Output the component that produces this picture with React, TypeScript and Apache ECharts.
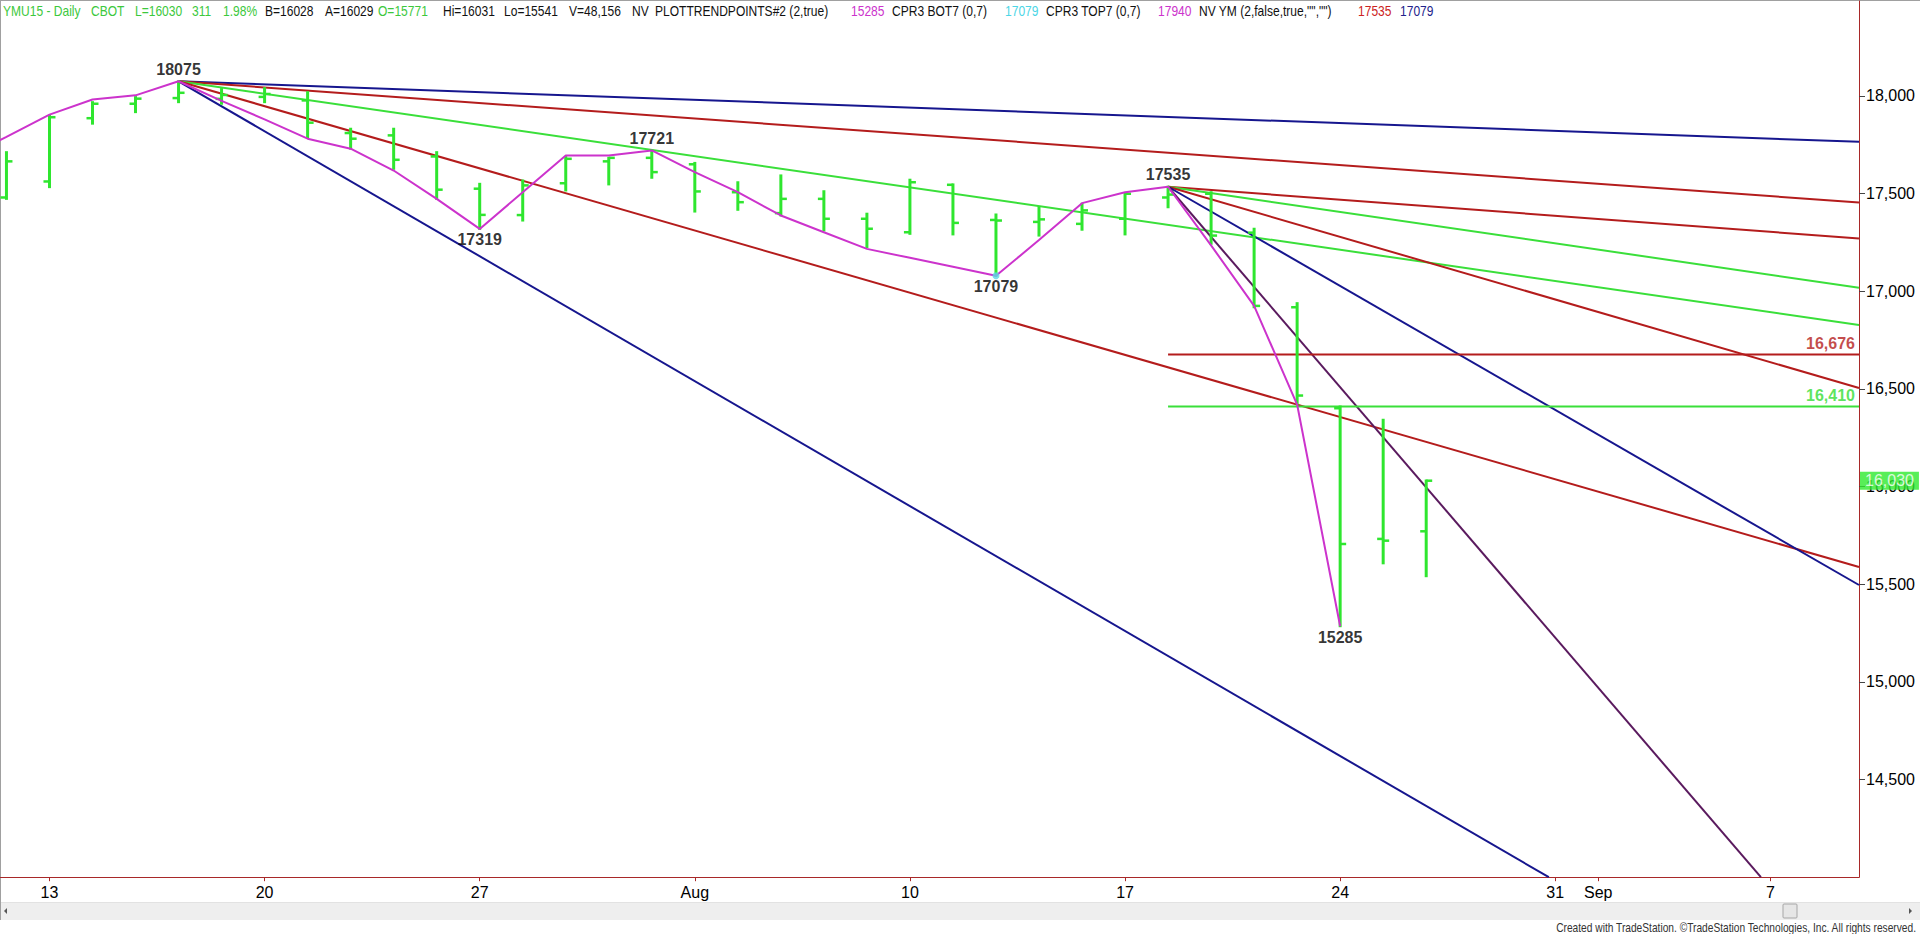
import React, { useEffect, useRef } from 'react';
import * as echarts from 'echarts';

// ---- DATA ----------------------------------------------------------------
// Trading-day calendar: index 0 = Fri Jul 10 2015
const tradingDays = [
  'Jul 10', 'Jul 13', 'Jul 14', 'Jul 15', 'Jul 16', 'Jul 17', 'Jul 20', 'Jul 21', 'Jul 22', 'Jul 23',
  'Jul 24', 'Jul 27', 'Jul 28', 'Jul 29', 'Jul 30', 'Jul 31', 'Aug 3', 'Aug 4', 'Aug 5', 'Aug 6',
  'Aug 7', 'Aug 10', 'Aug 11', 'Aug 12', 'Aug 13', 'Aug 14', 'Aug 17', 'Aug 18', 'Aug 19', 'Aug 20',
  'Aug 21', 'Aug 24', 'Aug 25', 'Aug 26', 'Aug 27', 'Aug 28', 'Aug 31', 'Sep 1', 'Sep 2', 'Sep 3',
  'Sep 4', 'Sep 7', 'Sep 8', 'Sep 9',
];
const xRangeMin = -0.15;
const xRangeMax = 43.06;
const xTickIdx = [1, 6, 11, 16, 21, 26, 31, 36, 37, 41];
const xTickText = ['13', '20', '27', 'Aug', '10', '17', '24', '31', 'Sep', '7'];

const yRangeMin = 14000;
const yRangeMax = 18486;
const yTickValues = [14500, 15000, 15500, 16000, 16500, 17000, 17500, 18000];

// Daily OHLC bars (YMU15)
const opens = [
  17480, 17562, 17886, 17960, 17989, 17985, 17995, 17977, 17810, 17798,
  17690, 17525, 17390, 17553, 17665, 17683, 17650, 17507, 17400, 17473,
  17371, 17302, 17545, 17365, 17355, 17345, 17371, 17480, 17499, 17300,
  16918, 16401, 15732, 15771,
];
const highs = [
  17712, 17897, 17968, 17994, 18075, 18035, 18040, 18019, 17832, 17832,
  17712, 17550, 17567, 17687, 17683, 17721, 17657, 17558, 17593, 17512,
  17397, 17571, 17547, 17393, 17430, 17448, 17499, 17535, 17507, 17320,
  16939, 16410, 16342, 16031,
];
const lows = [
  17473, 17533, 17858, 17917, 17968, 17960, 17968, 17789, 17730, 17627,
  17473, 17319, 17362, 17516, 17547, 17581, 17408, 17417, 17388, 17311,
  17226, 17294, 17291, 17079, 17285, 17315, 17291, 17430, 17243, 16918,
  16423, 15285, 15607, 15541,
];
const closes = [
  17665, 17891, 17960, 17986, 18016, 18005, 18010, 17863, 17781, 17673,
  17520, 17391, 17542, 17678, 17683, 17610, 17511, 17456, 17473, 17371,
  17320, 17558, 17350, 17362, 17368, 17414, 17499, 17495, 17285, 16925,
  16466, 15706, 15723, 16030,
];

// Swing (trend points) line, one value per bar from index 0, plus lead-in at index -1
const swingLeadIn = 17680;
const swingLine = [
  17790, 17904, 17982, 18003, 18075, 17975, 17880, 17781, 17730, 17618,
  17473, 17319, 17507, 17695, 17695, 17721, 17610, 17507, 17388, 17302,
  17217, 17171, 17125, 17079, 17262, 17451, 17507, 17535, 17235, 16925,
  16420, 15285,
];

const swingHighs: [number, number][] = [[4, 18075], [15, 17721], [27, 17535]];
const swingLows: [number, number][] = [[11, 17319], [23, 17079], [31, 15285]];
const cprTop: [number, number][] = [[23, 17079]];

// Trend lines: [fromIdx, fromValue, toIdx, toValue]
const trendLines: [number, number, number, number][] = [
  [4, 18075, 43.06, 17765],
  [4, 18075, 43.06, 17454],
  [4, 18075, 43.06, 16827],
  [4, 18075, 43.06, 15588],
  [4, 18075, 35.85, 14000],
  [27, 17535, 43.06, 17270],
  [27, 17535, 43.06, 17018],
  [27, 17535, 43.06, 16505],
  [27, 17535, 43.06, 15496],
  [27, 17535, 40.78, 14000],
];

const levelValues = [16676, 16410];
const levelStartIdx = 27;
const lastPrice = 16030;

// ---- STYLE ---------------------------------------------------------------
const BAR_GREEN = '#2FE62F';
const NAVY = '#16168E';
const DARKRED = '#B41C1C';
const LGREEN = '#3ADF3A';
const MAGENTA = '#CC33CC';
const PURPLE = '#5A1A5E';
const AXIS_RED = '#A82828';
const CYAN = '#5ED6E8';
const FONT = '"Liberation Sans", Arial, sans-serif';

const trendColors = [NAVY, DARKRED, LGREEN, DARKRED, NAVY, DARKRED, LGREEN, DARKRED, NAVY, PURPLE];
const levelColors = [DARKRED, LGREEN];
const levelLabelColors = ['#B41C1C', '#33DD33'];

const headerTokens: { text: string; x: number; color: string }[] = [
  { text: 'YMU15 - Daily', x: 3, color: '#3CC83C' },
  { text: 'CBOT', x: 91, color: '#3CC83C' },
  { text: 'L=16030', x: 135, color: '#3CC83C' },
  { text: '311', x: 192, color: '#3CC83C' },
  { text: '1.98%', x: 223, color: '#3CC83C' },
  { text: 'B=16028', x: 265, color: '#111' },
  { text: 'A=16029', x: 325, color: '#111' },
  { text: 'O=15771', x: 378, color: '#3CC83C' },
  { text: 'Hi=16031', x: 443, color: '#111' },
  { text: 'Lo=15541', x: 504, color: '#111' },
  { text: 'V=48,156', x: 569, color: '#111' },
  { text: 'NV', x: 632, color: '#111' },
  { text: 'PLOTTRENDPOINTS#2 (2,true)', x: 655, color: '#111' },
  { text: '15285', x: 851, color: '#CC33CC' },
  { text: 'CPR3 BOT7 (0,7)', x: 892, color: '#111' },
  { text: '17079', x: 1005, color: '#4CD6E6' },
  { text: 'CPR3 TOP7 (0,7)', x: 1046, color: '#111' },
  { text: '17940', x: 1158, color: '#CC33CC' },
  { text: 'NV YM (2,false,true,"","")', x: 1199, color: '#111' },
  { text: '17535', x: 1358, color: '#CC2222' },
  { text: '17079', x: 1400, color: '#22228C' },
];

function buildOption(): any {
  const series: any[] = [];

  trendLines.forEach((t, i) => {
    series.push({
      type: 'line',
      data: [[t[0], t[1]], [t[2], t[3]]],
      symbol: 'none',
      silent: true,
      clip: true,
      lineStyle: { color: trendColors[i], width: 2 },
      z: 2,
    });
  });

  levelValues.forEach((v, i) => {
    series.push({
      type: 'line',
      data: [[levelStartIdx, v], [xRangeMax, v]],
      symbol: 'none',
      silent: true,
      lineStyle: { color: levelColors[i], width: 2 },
      z: 2,
    });
    series.push({
      type: 'scatter',
      data: [[xRangeMax, v]],
      symbolSize: 0,
      silent: true,
      clip: false,
      label: {
        show: true,
        position: 'left',
        distance: 4,
        offset: [0, -11],
        formatter: () => v.toLocaleString('en-US'),
        color: levelLabelColors[i],
        fontWeight: 'bold',
        fontSize: 16,
        fontFamily: FONT,
      },
      z: 6,
    });
  });

  series.push({
    type: 'custom',
    silent: true,
    encode: { x: 0, y: [1, 2, 3, 4] },
    data: opens.map((o, i) => [i, o, highs[i], lows[i], closes[i]]),
    renderItem: (_params: any, api: any) => {
      const x = api.value(0);
      const pO = api.coord([x, api.value(1)]);
      const pH = api.coord([x, api.value(2)]);
      const pL = api.coord([x, api.value(3)]);
      const pC = api.coord([x, api.value(4)]);
      return {
        type: 'group',
        children: [
          { type: 'line', shape: { x1: pH[0], y1: pH[1] - 1, x2: pL[0], y2: pL[1] + 1 }, style: { stroke: BAR_GREEN, lineWidth: 3 } },
          { type: 'line', shape: { x1: pO[0] - 6, y1: pO[1], x2: pO[0], y2: pO[1] }, style: { stroke: BAR_GREEN, lineWidth: 2.5 } },
          { type: 'line', shape: { x1: pC[0], y1: pC[1], x2: pC[0] + 6, y2: pC[1] }, style: { stroke: BAR_GREEN, lineWidth: 2.5 } },
        ],
      };
    },
    z: 3,
  });

  series.push({
    type: 'line',
    data: [[-1, swingLeadIn], ...swingLine.map((v, i) => [i, v])],
    symbol: 'none',
    silent: true,
    clip: true,
    lineStyle: { color: MAGENTA, width: 2 },
    z: 4,
  });

  series.push({
    type: 'scatter',
    data: cprTop,
    symbolSize: 7,
    silent: true,
    itemStyle: { color: CYAN },
    z: 5,
  });

  series.push({
    type: 'scatter',
    data: swingHighs,
    symbolSize: 0,
    silent: true,
    label: {
      show: true,
      position: 'top',
      distance: 4,
      formatter: (p: any) => String(p.value[1]),
      color: '#000',
      fontWeight: 'bold',
      fontSize: 16,
      fontFamily: FONT,
    },
    z: 6,
  });
  series.push({
    type: 'scatter',
    data: swingLows,
    symbolSize: 0,
    silent: true,
    label: {
      show: true,
      position: 'bottom',
      distance: 3,
      formatter: (p: any) => String(p.value[1]),
      color: '#000',
      fontWeight: 'bold',
      fontSize: 16,
      fontFamily: FONT,
    },
    z: 6,
  });

  series.push({
    type: 'scatter',
    data: [[xRangeMax, lastPrice]],
    symbolSize: 0,
    silent: true,
    clip: false,
    label: {
      show: true,
      position: 'right',
      distance: 1,
      formatter: () => lastPrice.toLocaleString('en-US'),
      color: '#fff',
      backgroundColor: '#2EEA2E',
      padding: [1, 5, 1, 5],
      fontSize: 16,
      fontFamily: FONT,
    },
    z: 20,
  });

  const graphics: any[] = [
    { type: 'rect', shape: { x: 0, y: 902, width: 1920, height: 18 }, style: { fill: '#EEEEEE' }, silent: true },
    { type: 'line', shape: { x1: 0, y1: 902.5, x2: 1920, y2: 902.5 }, style: { stroke: '#E2E2E2', lineWidth: 1 }, silent: true },
    { type: 'rect', shape: { x: 1783, y: 904, width: 14, height: 14, r: 1 }, style: { fill: '#E6E6E6', stroke: '#A6A6A6', lineWidth: 1 }, silent: true },
    { type: 'polygon', shape: { points: [[7, 908], [7, 914], [4, 911]] }, style: { fill: '#555' }, silent: true },
    { type: 'polygon', shape: { points: [[1909, 908], [1909, 914], [1912, 911]] }, style: { fill: '#555' }, silent: true },
    { type: 'line', shape: { x1: 0, y1: 0.5, x2: 1920, y2: 0.5 }, style: { stroke: '#A0A0A0', lineWidth: 1 }, silent: true },
    { type: 'line', shape: { x1: 0.5, y1: 0, x2: 0.5, y2: 920 }, style: { stroke: '#A0A0A0', lineWidth: 1 }, silent: true },
    {
      type: 'text',
      x: 1916,
      y: 928,
      scaleX: 0.85,
      silent: true,
      style: {
        text: 'Created with TradeStation. ©TradeStation Technologies, Inc. All rights reserved.',
        fill: '#333',
        font: `12px ${FONT}`,
        textAlign: 'right',
        textVerticalAlign: 'middle',
      },
    },
  ];
  headerTokens.forEach((t) => {
    graphics.push({
      type: 'text',
      x: t.x,
      y: 11.5,
      scaleX: 0.86,
      silent: true,
      style: {
        text: t.text,
        fill: t.color,
        font: `14px ${FONT}`,
        textAlign: 'left',
        textVerticalAlign: 'middle',
      },
    });
  });

  return {
    animation: false,
    backgroundColor: '#fff',
    textStyle: { fontFamily: FONT },
    grid: { left: 0, right: 61, top: 1, bottom: 56.8, containLabel: false },
    xAxis: {
      type: 'value',
      min: xRangeMin,
      max: xRangeMax,
      axisLine: { show: true, onZero: false, lineStyle: { color: AXIS_RED, width: 1 } },
      axisTick: { show: true, customValues: xTickIdx, length: 4, lineStyle: { color: AXIS_RED } },
      axisLabel: {
        show: true,
        customValues: xTickIdx,
        formatter: (v: number) => {
          const k = xTickIdx.indexOf(Math.round(v));
          return k >= 0 ? xTickText[k] : '';
        },
        color: '#000',
        fontSize: 16,
        fontFamily: FONT,
        margin: 7,
      },
      splitLine: { show: false },
    },
    yAxis: {
      type: 'value',
      position: 'right',
      min: yRangeMin,
      max: yRangeMax,
      axisLine: { show: true, onZero: false, lineStyle: { color: AXIS_RED, width: 1 } },
      axisTick: { show: true, customValues: yTickValues, length: 6, lineStyle: { color: '#444' } },
      axisLabel: {
        show: true,
        customValues: yTickValues,
        formatter: (v: number) => v.toLocaleString('en-US'),
        color: '#000',
        fontSize: 16,
        fontFamily: FONT,
        margin: 7,
      },
      splitLine: { show: false },
    },
    series,
    graphic: graphics,
  };
}

export default function App() {
  const ref = useRef<HTMLDivElement>(null);
  useEffect(() => {
    document.body.style.margin = '0';
    const chart = echarts.init(ref.current!, null, { renderer: 'svg' });
    chart.setOption(buildOption());
    return () => chart.dispose();
  }, []);
  return (
    <div
      ref={ref}
      data-days={tradingDays.length}
      style={{ position: 'fixed', left: 0, top: 0, width: 1920, height: 934, background: '#fff' }}
    />
  );
}
